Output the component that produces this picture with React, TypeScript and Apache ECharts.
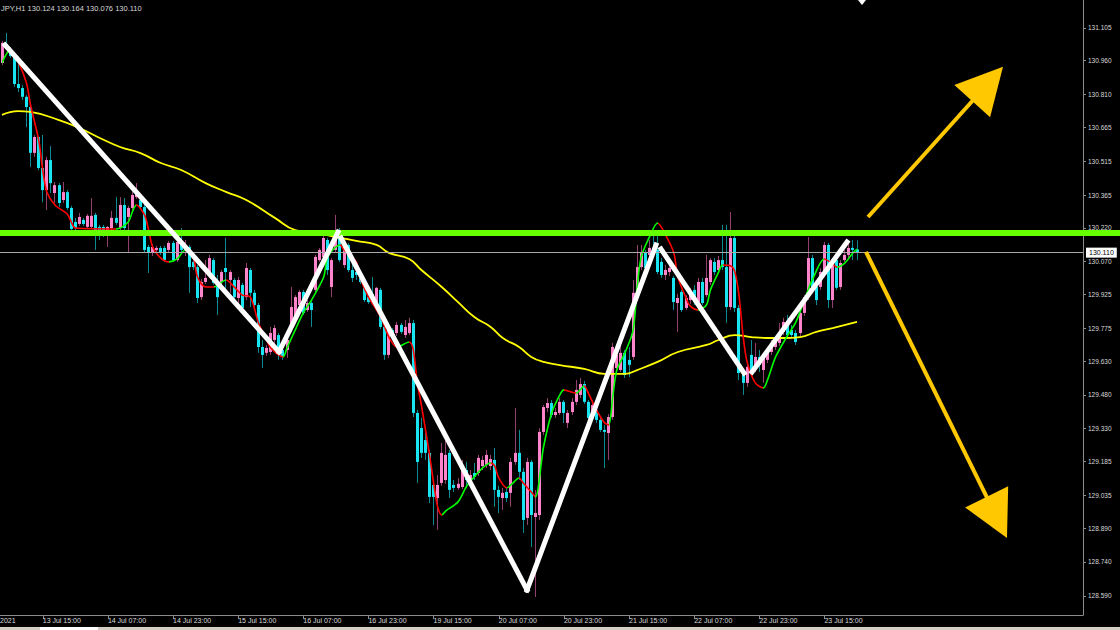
import React, { useEffect, useRef } from "react";
import * as echarts from "echarts";

const SYMBOL_VISIBLE = "JPY,H1";
const FIRST_BAR_UTC = Date.UTC(2021, 6, 13, 5);
const SLOT_COUNT = 266;
const PLOT_WIDTH = 1083;
const PAGE_WIDTH = 1120;

const openP = [
  130.950,131.034,131.012,130.981,130.857,130.839,130.800,130.755,130.552,130.622,
  130.485,130.387,130.520,130.374,130.409,130.343,130.378,130.308,130.246,130.237,
  130.255,130.224,130.224,130.277,130.224,130.224,130.197,130.219,130.264,130.219,
  130.321,130.268,130.308,130.356,130.343,130.312,130.135,130.109,130.122,130.131,
  130.131,130.122,130.153,130.077,130.157,130.122,130.135,130.069,130.046,129.913,
  129.980,130.011,130.077,129.976,129.980,130.042,129.989,129.989,129.909,129.967,
  129.913,130.033,129.932,129.878,129.692,129.666,129.670,129.723,129.745,129.679,
  129.679,129.781,129.825,129.878,129.936,129.856,129.887,129.945,130.077,130.091,
  130.166,129.958,130.122,130.188,130.055,130.144,130.033,130.024,130.011,129.980,
  129.913,129.927,129.891,129.945,129.781,129.657,129.767,129.754,129.790,129.745,
  129.754,129.798,129.400,129.333,129.280,129.223,129.081,129.023,129.090,129.103,
  129.223,129.081,129.068,129.072,129.147,129.103,129.134,129.134,129.165,129.170,
  129.165,129.192,129.059,129.023,129.050,129.046,129.183,129.223,129.139,128.935,
  129.183,128.939,128.948,129.316,129.422,129.444,129.391,129.400,129.449,129.356,
  129.404,129.449,129.480,129.528,129.449,129.391,129.413,129.369,129.325,129.311,
  129.382,129.599,129.590,129.666,129.635,129.648,129.932,130.046,130.109,130.100,
  130.131,130.122,130.069,130.011,130.024,129.998,129.887,129.936,129.865,129.900,
  129.945,129.891,129.980,129.922,129.980,130.069,130.033,130.077,130.046,129.869,
  130.175,129.865,129.577,129.533,129.657,129.613,129.648,129.590,129.635,129.670,
  129.692,129.710,129.759,129.790,129.767,129.754,129.754,129.843,129.913,130.086,
  129.958,129.958,130.024,130.144,129.900,130.077,129.958,130.077,130.100,130.131,
  130.124,
];

const closeP = [
  131.039,131.012,130.981,130.857,130.839,130.800,130.755,130.552,130.622,130.485,
  130.387,130.520,130.418,130.409,130.330,130.378,130.308,130.215,130.219,130.268,
  130.237,130.273,130.273,130.197,130.197,130.197,130.224,130.264,130.242,130.321,
  130.219,130.308,130.365,130.387,130.312,130.122,130.109,130.135,130.131,130.109,
  130.077,130.153,130.077,130.157,130.122,130.135,130.046,130.046,129.909,129.980,
  129.998,130.086,129.976,129.913,130.024,130.024,130.024,129.913,129.989,129.865,
  130.042,129.932,129.878,129.692,129.657,129.688,129.754,129.776,129.666,129.648,
  129.723,129.869,129.913,129.936,129.843,129.887,129.856,130.091,130.122,130.175,
  130.033,130.077,130.210,130.077,130.144,130.033,129.998,130.011,129.980,129.900,
  129.891,129.909,129.954,129.781,129.657,129.767,129.754,129.790,129.759,129.781,
  129.798,129.400,129.183,129.223,129.223,129.028,129.028,129.081,129.223,129.214,
  129.059,129.068,129.086,129.147,129.103,129.125,129.117,129.201,129.192,129.214,
  129.196,129.059,129.028,129.046,129.023,129.183,129.223,129.139,128.926,129.183,
  128.948,128.957,129.316,129.426,129.444,129.391,129.404,129.449,129.400,129.400,
  129.449,129.502,129.528,129.449,129.378,129.435,129.369,129.325,129.316,129.382,
  129.692,129.657,129.666,129.568,129.613,129.932,130.046,130.109,130.042,130.131,
  130.109,130.024,130.011,130.033,130.042,129.891,129.909,129.856,129.909,129.936,
  129.891,129.980,129.887,129.998,130.077,130.024,130.077,130.046,129.869,130.175,
  129.865,129.577,129.533,129.604,129.590,129.648,129.613,129.648,129.666,129.710,
  129.714,129.754,129.803,129.745,129.745,129.714,129.843,129.913,130.086,129.958,
  129.900,130.024,130.144,129.900,130.077,129.954,130.064,130.100,130.131,130.122,
  130.110,
];

const highP = [
  131.048,131.083,131.021,130.986,130.981,130.853,130.808,130.760,130.631,130.622,
  130.631,130.534,130.582,130.423,130.418,130.423,130.387,130.317,130.264,130.286,
  130.264,130.281,130.352,130.286,130.233,130.233,130.228,130.295,130.356,130.356,
  130.352,130.317,130.396,130.418,130.352,130.321,130.144,130.148,130.140,130.140,
  130.140,130.162,130.162,130.175,130.219,130.166,130.144,130.086,130.055,129.993,
  130.077,130.100,130.086,130.011,130.033,130.175,130.033,129.998,130.002,129.976,
  130.064,130.042,129.945,129.887,129.723,129.701,129.781,129.790,129.754,129.697,
  129.732,129.958,129.922,129.945,129.945,129.900,129.900,130.100,130.131,130.210,
  130.175,130.086,130.277,130.219,130.166,130.153,130.069,130.042,130.024,129.989,
  129.927,130.002,129.958,129.954,129.790,129.790,129.776,129.803,129.798,129.812,
  129.821,129.812,129.413,129.378,129.311,129.236,129.103,129.125,129.267,129.280,
  129.236,129.103,129.112,129.192,129.183,129.147,129.178,129.214,129.210,129.236,
  129.214,129.245,129.077,129.068,129.068,129.201,129.422,129.325,129.156,129.201,
  129.192,129.059,129.333,129.435,129.466,129.457,129.422,129.466,129.457,129.413,
  129.466,129.546,129.555,129.542,129.457,129.457,129.435,129.387,129.347,129.395,
  129.710,129.679,129.701,129.679,129.692,129.989,130.144,130.144,130.122,130.166,
  130.188,130.188,130.086,130.055,130.069,130.006,129.927,129.945,129.922,129.954,
  129.967,129.998,129.998,130.100,130.086,130.086,130.095,130.233,130.233,130.290,
  130.188,129.878,129.590,129.621,129.723,129.710,129.679,129.666,129.688,129.723,
  129.732,129.798,129.821,129.834,129.790,129.767,129.856,129.922,130.179,130.100,
  129.976,130.042,130.157,130.153,130.086,130.086,130.077,130.122,130.157,130.166,
  130.164,
];

const lowP = [
  130.941,131.008,130.972,130.844,130.821,130.786,130.666,130.490,130.534,130.476,
  130.334,130.299,130.374,130.330,130.312,130.330,130.299,130.206,130.210,130.228,
  130.228,130.215,130.215,130.122,130.166,130.179,130.135,130.197,130.233,130.197,
  130.210,130.109,130.299,130.348,130.303,130.109,130.020,130.095,130.113,130.100,
  130.069,130.113,130.069,130.069,130.113,130.095,129.932,130.033,129.887,129.900,
  129.971,129.998,129.967,129.834,129.967,129.936,129.932,129.900,129.856,129.856,
  129.900,129.869,129.865,129.666,129.599,129.653,129.657,129.701,129.635,129.635,
  129.644,129.767,129.812,129.856,129.834,129.847,129.781,129.936,130.069,130.082,
  130.011,129.913,130.113,130.069,130.042,130.024,129.980,129.989,129.971,129.891,
  129.883,129.900,129.883,129.772,129.635,129.644,129.723,129.741,129.750,129.732,
  129.745,129.382,129.090,129.201,129.192,129.001,128.904,128.882,129.077,129.086,
  129.023,129.050,129.059,129.063,129.068,129.086,129.103,129.121,129.147,129.156,
  129.147,128.984,128.957,128.970,129.006,128.984,129.170,129.103,128.868,128.904,
  128.806,128.585,128.926,129.302,129.404,129.378,129.378,129.391,129.356,129.333,
  129.391,129.435,129.466,129.440,129.356,129.378,129.356,129.316,129.156,129.192,
  129.369,129.568,129.581,129.555,129.559,129.635,129.922,130.033,130.024,130.086,
  130.095,130.015,129.998,129.989,130.006,129.856,129.759,129.847,129.856,129.883,
  129.878,129.878,129.878,129.913,129.967,130.011,130.020,130.033,129.799,129.856,
  129.847,129.546,129.480,129.515,129.581,129.581,129.581,129.533,129.621,129.657,
  129.679,129.697,129.745,129.732,129.732,129.701,129.741,129.830,129.900,129.945,
  129.878,129.945,130.011,129.865,129.865,129.945,129.945,130.069,130.086,130.077,
  130.076,
];

// long moving average (yellow), read at bar indices
const slowMa: [number, number][] = [
  [0,130.720],[4,130.737],[7,130.733],[14,130.697],[19,130.662],[24,130.618],[29,130.578],
  [34,130.551],[39,130.507],[44,130.476],[50,130.418],[55,130.379],[60,130.343],[67,130.264],
  [72,130.210],[77,130.197],[82,130.179],[87,130.162],[92,130.144],[95,130.109],[100,130.082],
  [103,130.033],[108,129.958],[112,129.891],[116,129.825],[120,129.781],[123,129.732],[127,129.692],
  [130,129.648],[133,129.626],[137,129.612],[143,129.595],[148,129.573],[153,129.573],[156,129.590],
  [161,129.626],[166,129.670],[173,129.701],[176,129.723],[180,129.745],[184,129.736],[188,129.732],
  [192,129.732],[196,129.736],[200,129.759],[204,129.776],[210,129.803],
];

// short moving average (red falling / green rising), read at bar indices
const fastMa: [number, number][] = [
  [0,130.950],[2,131.008],[4,130.954],[6,130.861],[7,130.764],[9,130.609],[10,130.476],[11,130.379],
  [13,130.321],[16,130.281],[17,130.246],[18,130.219],[28,130.215],[31,130.246],[32,130.290],[33,130.321],
  [35,130.277],[36,130.210],[37,130.135],[39,130.086],[41,130.069],[43,130.082],[45,130.122],[47,130.086],
  [48,130.002],[50,129.958],[52,129.958],[55,129.989],[57,129.958],[59,129.922],[61,129.913],[63,129.798],
  [65,129.723],[66,129.688],[69,129.648],[70,129.688],[72,129.767],[74,129.843],[76,129.900],[79,130.002],
  [80,130.091],[83,130.144],[84,130.122],[87,130.069],[88,129.998],[90,129.913],[93,129.825],[95,129.736],
  [97,129.692],[100,129.714],[101,129.679],[102,129.533],[103,129.435],[105,129.214],[106,129.090],[107,128.984],
  [108,128.948],[109,128.966],[112,129.006],[114,129.072],[116,129.117],[118,129.156],[120,129.178],[121,129.165],
  [122,129.112],[124,129.068],[125,129.081],[127,129.112],[128,129.090],[130,129.050],[131,129.028],[133,129.249],
  [135,129.400],[137,129.480],[138,129.502],[139,129.497],[141,129.488],[143,129.519],[144,129.488],[146,129.413],
  [148,129.356],[149,129.347],[150,129.471],[151,129.590],[153,129.666],[155,129.767],[156,129.958],[157,130.091],
  [159,130.179],[161,130.241],[163,130.188],[165,130.109],[166,130.002],[168,129.909],[169,129.874],[171,129.856],
  [173,129.878],[174,129.945],[176,130.024],[177,130.055],[179,130.051],[180,130.024],[181,129.922],[182,129.745],
  [183,129.626],[185,129.533],[187,129.511],[188,129.546],[190,129.648],[193,129.745],[195,129.803],[198,129.945],
  [199,129.989],[202,130.082],[204,130.060],[205,130.046],[207,130.064],[209,130.109],[210,130.126],
];
// bar indices where the short MA changes direction (first run rises -> green)
const fastMaTurns = [0,2,28,33,41,45,52,55,69,83,97,100,108,120,124,127,131,138,141,143,149,161,171,177,187,202,205,210];

const yTickValues = [
  131.105,130.960,130.810,130.665,130.515,130.365,130.220,130.070,129.925,
  129.775,129.630,129.480,129.330,129.185,129.035,128.890,128.740,128.590,
];
const xTickLabels = [
  "13 Jul 15:00","14 Jul 07:00","14 Jul 23:00","15 Jul 15:00","16 Jul 07:00","16 Jul 23:00",
  "19 Jul 15:00","20 Jul 07:00","20 Jul 23:00","21 Jul 15:00","22 Jul 07:00","22 Jul 23:00","23 Jul 15:00",
];
const firstDateVisible = "2021";

const yMin = 128.505;
const yMax = 131.229;
const resistanceLevel = 130.2;

// hand-drawn zigzag (bar position, price)
const zigzagSegments: [number, number][][] = [
  [[0.73,131.030],[68.03,129.670]],
  [[68.03,129.670],[82.52,130.201]],
  [[83.26,130.175],[128.94,128.616]],
  [[128.94,128.616],[160.62,130.144]],
  [[161.85,130.126],[182.24,129.577]],
  [[184.2,129.581],[207.54,130.157]],
];
// forecast arrows: shaft start, arrow-head centre
const arrowSegments: [number, number][][] = [
  [[212.7,130.268],[242.07,130.857]],
  [[212.2,130.113],[244.33,128.937]],
];

const UP_BODY = "#ff84cc";
const DOWN_BODY = "#18e4f2";
const UP_WICK = "#94406f";
const DOWN_WICK = "#0c8c92";
const FONT = "Liberation Sans";

function buildCategories(): string[] {
  const cats: string[] = [];
  let t = FIRST_BAR_UTC;
  while (cats.length < closeP.length) {
    const d = new Date(t);
    const wd = d.getUTCDay();
    if (wd !== 0 && wd !== 6) {
      cats.push(`${d.getUTCDate()} Jul ${String(d.getUTCHours()).padStart(2, "0")}:00`);
    }
    t += 3600000;
  }
  for (let k = cats.length; k < SLOT_COUNT; k++) cats.push(`future-${k}`);
  return cats;
}

export default function App() {
  const ref = useRef<HTMLDivElement>(null);

  useEffect(() => {
    const el = ref.current;
    if (!el) return;
    const chart = echarts.init(el, undefined, { renderer: "svg" });

    const categories = buildCategories();
    const tickSet = new Set(xTickLabels);
    const showTick = (_i: number, v: string) => tickSet.has(v);

    const candleData = openP.map((o, i) => [i, o, closeP[i], lowP[i], highP[i]]);

    const pieces: any[] = [];
    for (let k = 0; k < fastMaTurns.length - 1; k++) {
      const lastPiece = k === fastMaTurns.length - 2;
      const p: any = { gte: fastMaTurns[k], color: k % 2 === 0 ? "#00ff00" : "#ff0000" };
      if (lastPiece) p.lte = SLOT_COUNT;
      else p.lt = fastMaTurns[k + 1];
      pieces.push(p);
    }

    const last = closeP.length - 1;
    const lastClose = closeP[last];
    const fmt = (v: number) => v.toFixed(3);

    // overlay axis spans the whole page width with the same bar scale
    const barPx = PLOT_WIDTH / SLOT_COUNT;
    const overlayMax = -0.5 + PAGE_WIDTH / barPx;

    const whiteStyle = { color: "#ffffff", width: 5, type: "solid", cap: "square" };
    const arrowStyle = { color: "#ffc800", width: 4, type: "solid" };

    const markData: any[] = [
      [
        {
          coord: [-0.5, lastClose],
          lineStyle: { color: "#a9a9a9", width: 1, type: "solid" },
          label: {
            show: true,
            position: "end",
            formatter: fmt(lastClose),
            color: "#000",
            backgroundColor: "#ffffff",
            fontSize: 7,
            fontFamily: FONT,
            padding: [2, 3, 1, 3],
            distance: 3,
          },
        },
        { coord: [SLOT_COUNT - 0.5, lastClose] },
      ],
      [
        { coord: [-0.5, resistanceLevel], lineStyle: { color: "#66ff00", width: 6, type: "solid" } },
        { coord: [overlayMax, resistanceLevel] },
      ],
      ...zigzagSegments.map((s) => [
        { coord: s[0], lineStyle: whiteStyle },
        { coord: s[1] },
      ]),
      ...arrowSegments.map((s) => [
        { coord: s[0], lineStyle: arrowStyle },
        { coord: s[1], symbol: "triangle", symbolSize: [48, 46] },
      ]),
    ];

    const option: any = {
      animation: false,
      backgroundColor: "#000000",
      textStyle: { fontFamily: FONT },
      grid: [
        { left: 0, top: 0, right: PAGE_WIDTH - PLOT_WIDTH, bottom: 15, outerBoundsMode: "none" },
        { left: 0, top: 0, right: 0, bottom: 15, outerBoundsMode: "none" },
      ],
      xAxis: [
        {
          type: "category",
          gridIndex: 0,
          data: categories,
          boundaryGap: true,
          axisLine: { show: true, lineStyle: { color: "#8c8c8c", width: 1 } },
          axisTick: {
            show: true,
            interval: showTick,
            alignWithLabel: true,
            length: 4,
            lineStyle: { color: "#8c8c8c" },
          },
          axisLabel: {
            interval: showTick,
            align: "left",
            color: "#dcdcdc",
            fontSize: 7,
            fontFamily: FONT,
            margin: 2,
          },
          splitLine: { show: false },
        },
        {
          type: "value",
          gridIndex: 1,
          min: -0.5,
          max: overlayMax,
          show: false,
          splitLine: { show: false },
        },
      ],
      yAxis: [
        {
          type: "value",
          gridIndex: 0,
          position: "right",
          min: yMin,
          max: yMax,
          splitLine: { show: false },
          axisLine: { show: true, lineStyle: { color: "#8c8c8c", width: 1 } },
          axisTick: {
            show: true,
            length: 3,
            customValues: yTickValues,
            lineStyle: { color: "#8c8c8c" },
          },
          axisLabel: {
            customValues: yTickValues,
            formatter: (v: number) => v.toFixed(3),
            color: "#d8d8d8",
            fontSize: 6.5,
            fontFamily: FONT,
            margin: 5,
          },
        },
        {
          type: "value",
          gridIndex: 1,
          min: yMin,
          max: yMax,
          show: false,
          splitLine: { show: false },
        },
      ],
      visualMap: [
        {
          type: "piecewise",
          show: false,
          seriesIndex: 2,
          dimension: 0,
          pieces,
        },
      ],
      series: [
        {
          type: "custom",
          name: "candles",
          xAxisIndex: 0,
          yAxisIndex: 0,
          z: 2,
          data: candleData,
          encode: { x: 0, y: [1, 2, 3, 4] },
          renderItem: (_params: any, api: any) => {
            const idx = api.value(0);
            const o = api.value(1);
            const c = api.value(2);
            const l = api.value(3);
            const h = api.value(4);
            const pO = api.coord([idx, o]);
            const pC = api.coord([idx, c]);
            const pL = api.coord([idx, l]);
            const pH = api.coord([idx, h]);
            const bull = c > o;
            const x = Math.floor(pO[0]) + 0.5;
            const top = Math.min(pO[1], pC[1]);
            const bot = Math.max(pO[1], pC[1]);
            return {
              type: "group",
              children: [
                {
                  type: "line",
                  shape: { x1: x, y1: pH[1], x2: x, y2: pL[1] },
                  style: { stroke: bull ? UP_WICK : DOWN_WICK, lineWidth: 1 },
                },
                {
                  type: "rect",
                  shape: { x: x - 1.5, y: top, width: 3, height: Math.max(bot - top, 1) },
                  style: { fill: bull ? UP_BODY : DOWN_BODY },
                },
              ],
            };
          },
        },
        {
          type: "line",
          name: "slowMA",
          xAxisIndex: 0,
          yAxisIndex: 0,
          z: 3,
          data: slowMa,
          smooth: true,
          showSymbol: false,
          silent: true,
          lineStyle: { color: "#ffff00", width: 1.8 },
        },
        {
          type: "line",
          name: "fastMA",
          xAxisIndex: 0,
          yAxisIndex: 0,
          z: 3,
          data: fastMa,
          smooth: 0.3,
          showSymbol: false,
          silent: true,
          lineStyle: { width: 1.6 },
        },
        {
          type: "line",
          name: "annotations",
          xAxisIndex: 1,
          yAxisIndex: 1,
          z: 5,
          data: [],
          clip: false,
          silent: true,
          markLine: {
            silent: true,
            animation: false,
            symbol: "none",
            label: { show: false },
            emphasis: { disabled: true },
            data: markData,
          },
        },
      ],
      graphic: [
        {
          type: "text",
          x: 1,
          y: 4,
          silent: true,
          style: {
            text: `${SYMBOL_VISIBLE} ${fmt(openP[last])} ${fmt(highP[last])} ${fmt(lowP[last])} ${fmt(closeP[last])}`,
            fill: "#d8d8d8",
            fontSize: 7.5,
            fontFamily: FONT,
          },
        },
        {
          type: "text",
          x: 0,
          y: 617,
          silent: true,
          style: {
            text: firstDateVisible,
            fill: "#dcdcdc",
            fontSize: 7,
            fontFamily: FONT,
          },
        },
        {
          type: "polygon",
          silent: true,
          shape: { points: [[858, 0], [866, 0], [862, 5]] },
          style: { fill: "#ffffff" },
        },
        {
          type: "rect",
          silent: true,
          shape: { x: 0, y: 627, width: PAGE_WIDTH, height: 3 },
          style: { fill: "#d4d0c8" },
        },
        {
          type: "rect",
          silent: true,
          shape: { x: 40, y: 627, width: 58, height: 3 },
          style: { fill: "#ffffff" },
        },
      ],
    };

    chart.setOption(option);
    return () => chart.dispose();
  }, []);

  return (
    <div
      ref={ref}
      style={{ position: "fixed", left: 0, top: 0, width: PAGE_WIDTH, height: 630, background: "#000" }}
    />
  );
}
